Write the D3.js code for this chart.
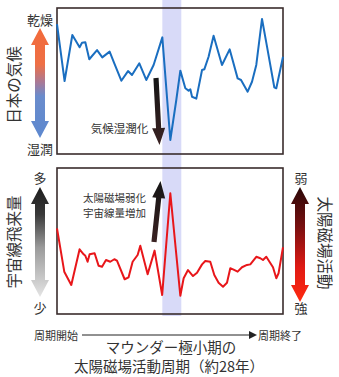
<!DOCTYPE html>
<html>
<head>
<meta charset="utf-8">
<script src="https://cdn.jsdelivr.net/npm/d3@7"></script>
<style>
  html, body { margin: 0; padding: 0; background: #fff; }
  svg { display: block; }
  text { font-family: "Noto Sans CJK JP", "Noto Sans", sans-serif; fill: #333; }
</style>
</head>
<body>
<svg id="chart" width="339" height="377"></svg>
<script>
// Time within the ~28-year solar magnetic cycle (years)
const climateYears = [0, 0.94, 1.9, 2.8, 3.1, 3.51, 4.0, 4.96, 5.61, 6.52, 7.1, 7.97, 8.8, 9.29, 10.2, 11.06, 11.97, 13.05,
  14.04, 14.78, 15.28, 15.9, 16.3, 16.52, 16.73, 17.26, 17.97, 18.25, 18.78, 19.4, 20.44, 21.39, 22.38, 22.8, 23.62,
  24.16, 24.69, 25.4, 26.02, 26.92, 27.17, 28.0];
// Dryness index of Japan's climate (high = dry, low = wet)
const climateValues = [89, 50, 81.5, 73.1, 76.2, 76.5, 64.9, 71.2, 66.2, 70.1, 62.1, 50.2, 56.8, 54.1, 62.1, 50.7, 61, 79.9,
  9.6, 37, 57.1, 45, 43.4, 44.3, 39.2, 37.9, 57.5, 58, 66.6, 81, 61, 71.7, 51.8, 50.7, 42.7,
  49.5, 61, 92.5, 73.5, 45.7, 45, 66.6];

const cosmicYears = [0, 0.9, 1.77, 2.8, 3.3, 3.51, 3.79, 4.04, 4.66, 5.15, 5.58, 6.07, 6.6, 7.1, 7.43, 8.38, 8.87, 9.37,
  9.99, 10.32, 11.23, 12.09, 13.03, 14.04, 15.28, 15.69, 16.23, 16.85, 17.35, 17.97, 18.37, 18.99, 19.49, 20.02,
  20.57, 21.06, 21.47, 21.81, 22.38, 22.92, 23.54, 23.95, 24.69, 25.19, 25.52, 25.93, 26.76, 27.17, 27.45, 28.0];
// Cosmic-ray flux index (high = more cosmic rays)
const cosmicValues = [58.7, 29, 19.9, 44.3, 40.9, 39.9, 35.8, 40.9, 41.6, 33.1, 32.4, 37, 35.8, 37.5, 36.5, 23.8, 25.1, 35.8,
  40.4, 46.8, 27.2, 43.4, 13, 82.7, 12.5, 24.5, 30.1, 26, 28.3, 34, 36.3, 35.8, 26.7, 21.4,
  18.7, 21.4, 31.3, 30.6, 29, 32, 33.6, 34, 39.2, 38.2, 37, 39.2, 32, 24.5, 27.9, 45.7];

// Maunder Minimum window within the cycle (years)
const minimumSpan = [13.05, 15.4];

const svg = d3.select("#chart");
const defs = svg.append("defs");

const x = d3.scaleLinear().domain([0, 28]).range([57, 283]);
const yTop = d3.scaleLinear().domain([0, 100]).range([154, 8]);
const yBot = d3.scaleLinear().domain([0, 100]).range([314, 168]);

// gradients
function vGrad(id, stops) {
  const g = defs.append("linearGradient").attr("id", id)
    .attr("x1", 0).attr("y1", 0).attr("x2", 0).attr("y2", 1);
  stops.forEach(s => g.append("stop").attr("offset", s[0]).attr("stop-color", s[1]));
}
vGrad("gClimate", [[0, "#f26a3a"], [0.33, "#ee6f45"], [0.5, "#a67a9a"], [0.62, "#6a8ccc"], [1, "#5d88cf"]]);
vGrad("gCosmic", [[0, "#1e1e1e"], [0.25, "#3a3a3a"], [0.55, "#9a9a9a"], [1, "#e4e4e4"]]);
vGrad("gSolar", [[0, "#2a0808"], [0.35, "#7a1010"], [0.7, "#e01a14"], [1, "#ff2a10"]]);
vGrad("gDark", [[0, "#151515"], [1, "#3a2222"]]);

// Maunder Minimum band
svg.append("rect")
  .attr("x", x(minimumSpan[0])).attr("width", x(minimumSpan[1]) - x(minimumSpan[0]))
  .attr("y", 0).attr("height", 316)
  .attr("fill", "#d8daf8");

// panel frames
[yTop, yBot].forEach(ys => {
  svg.append("rect")
    .attr("x", x(0)).attr("y", ys(100))
    .attr("width", x(28) - x(0)).attr("height", ys(0) - ys(100))
    .attr("fill", "none").attr("stroke", "#3a2c2c").attr("stroke-width", 1.6);
});

// series lines
const climateLine = d3.line().x((d, i) => x(climateYears[i])).y(d => yTop(d));
svg.append("path").datum(climateValues)
  .attr("d", climateLine).attr("fill", "none")
  .attr("stroke", "#1a6ec0").attr("stroke-width", 2).attr("stroke-linejoin", "round");

const cosmicLine = d3.line().x((d, i) => x(cosmicYears[i])).y(d => yBot(d));
svg.append("path").datum(cosmicValues)
  .attr("d", cosmicLine).attr("fill", "none")
  .attr("stroke", "#e8161a").attr("stroke-width", 2).attr("stroke-linejoin", "round");

// block double-headed arrow (vertical)
function doubleArrow(cx, y0, y1, fill) {
  const hw = 9, sw = 5, hh = 17;
  const p = [
    [cx, y0], [cx + hw, y0 + hh], [cx + sw, y0 + hh], [cx + sw, y1 - hh], [cx + hw, y1 - hh],
    [cx, y1], [cx - hw, y1 - hh], [cx - sw, y1 - hh], [cx - sw, y0 + hh], [cx - hw, y0 + hh]
  ];
  svg.append("path").attr("d", "M" + p.join("L") + "Z").attr("fill", fill);
}
doubleArrow(40, 28, 138, "url(#gClimate)");
doubleArrow(40, 187, 297, "url(#gCosmic)");
doubleArrow(300, 187, 302, "url(#gSolar)");

// single arrow from (xa,ya) to tip (xb,yb)
function arrow(xa, ya, xb, yb) {
  const dx = xb - xa, dy = yb - ya, len = Math.hypot(dx, dy);
  const ux = dx / len, uy = dy / len, nx = -uy, ny = ux;
  const sw = 2.6, hw = 6.5, hh = 17;
  const bx = xb - ux * hh, by = yb - uy * hh;
  const p = [
    [xa + nx * sw, ya + ny * sw], [bx + nx * sw, by + ny * sw], [bx + nx * hw, by + ny * hw],
    [xb, yb], [bx - nx * hw, by - ny * hw], [bx - nx * sw, by - ny * sw], [xa - nx * sw, ya - ny * sw]
  ];
  svg.append("path").attr("d", "M" + p.join("L") + "Z").attr("fill", "url(#gDark)");
}
arrow(156, 78, 159.5, 145);
arrow(154, 242, 160.5, 181);

// labels
function label(txt, tx, ty, size, rot, anchor) {
  const t = svg.append("text").text(txt)
    .attr("font-size", size)
    .attr("text-anchor", anchor || "middle")
    .attr("dominant-baseline", "central");
  if (rot) t.attr("transform", `translate(${tx},${ty}) rotate(${rot})`);
  else t.attr("x", tx).attr("y", ty);
  return t;
}
label("乾燥", 40, 19, 13);
label("湿潤", 40, 148, 13);
label("日本の気候", 13, 85, 15.5, -90);
label("気候湿潤化", 119.5, 128, 11.5);

label("多", 40, 177, 13);
label("少", 40, 307, 13);
label("宇宙線飛来量", 13, 242, 15.5, -90);

// two-line note beside the upward arrow
label("太陽磁場弱化", 114.5, 197, 10.5);
label("宇宙線量増加", 114.5, 212.5, 10.5);

label("弱", 301, 177, 13);
label("強", 301, 307, 13);
label("太陽磁場活動", 326, 243, 15.5, 90);

// cycle axis arrow
label("周期開始", 56, 335, 11);
label("周期終了", 280, 335, 11);
svg.append("line").attr("x1", 82).attr("x2", 250).attr("y1", 335).attr("y2", 335)
  .attr("stroke", "#222").attr("stroke-width", 1);
svg.append("path").attr("d", "M249,331L257,335L249,339Z").attr("fill", "#222");

label("マウンダー極小期の", 171, 346, 14.5);
label("太陽磁場活動周期（約28年）", 169, 365, 14.5);
</script>
</body>
</html>
